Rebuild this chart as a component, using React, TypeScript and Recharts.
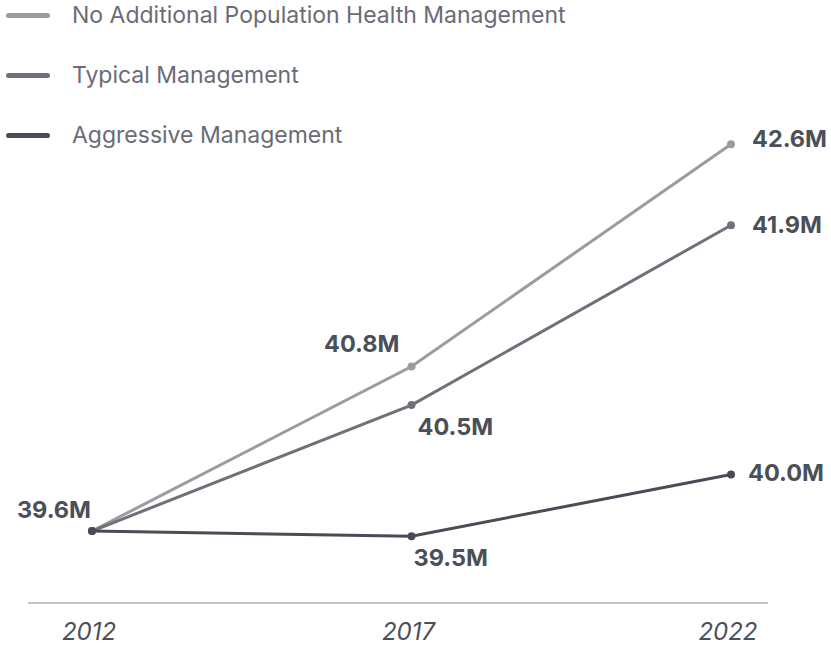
import { LineChart, Line, XAxis, YAxis, LabelList } from 'recharts';

const years = ['2012', '2017', '2022'];
const noManagement = [39.56, 40.84, 42.57];
const typicalManagement = [39.56, 40.54, 41.94];
const aggressiveManagement = [39.56, 39.52, 40.0];

const seriesNames = [
  'No Additional Population Health Management',
  'Typical Management',
  'Aggressive Management',
];
const seriesColors = ['#9b9ba0', '#6f7079', '#474c55'];

const data = years.map((year, i) => ({
  year,
  none: noManagement[i],
  typical: typicalManagement[i],
  aggressive: aggressiveManagement[i],
}));

const TEXT = '#4a4f58';
const FONT = 'Inter, "Open Sans", sans-serif';

// where each point's label sits, relative to its dot (null = no label)
type Place = { dx: number; dy: number; anchor: 'start' | 'end' } | null;
const placements: Record<string, Place[]> = {
  none: [null, { dx: -12, dy: -15, anchor: 'end' }, { dx: 21, dy: 3, anchor: 'start' }],
  typical: [null, { dx: 6, dy: 30, anchor: 'start' }, { dx: 21, dy: 8, anchor: 'start' }],
  aggressive: [
    { dx: -1, dy: -13, anchor: 'end' },
    { dx: 2, dy: 30, anchor: 'start' },
    { dx: 17, dy: 6, anchor: 'start' },
  ],
};

const makeLabel = (key: string) => (props: any) => {
  const { x, y, value, index } = props;
  const p = placements[key][index];
  if (!p) return null;
  return (
    <text
      x={x + p.dx}
      y={y + p.dy}
      textAnchor={p.anchor}
      fill={TEXT}
      fontSize={23.5}
      fontWeight={700}
      fontFamily={FONT}
    >
      {`${Number(value).toFixed(1)}M`}
    </text>
  );
};

const YearTick = ({ x, y, payload }: any) => (
  <text
    x={x - 3}
    y={y + 37}
    textAnchor="middle"
    fill={TEXT}
    fontSize={24}
    fontStyle="italic"
    fontFamily={FONT}
  >
    {payload.value}
  </text>
);

export default function App() {
  const keys = ['none', 'typical', 'aggressive'];
  return (
    <div style={{ position: 'relative', width: 831, height: 646, background: '#fff' }}>
      <style>{'body{margin:0}'}</style>
      <div style={{ position: 'absolute', left: 0, top: 0, zIndex: 1 }}>
        {seriesNames.map((name, i) => (
          <div
            key={name}
            style={{
              position: 'absolute',
              left: 6,
              top: 15 + i * 60 - 15,
              height: 30,
              display: 'flex',
              alignItems: 'center',
              whiteSpace: 'nowrap',
            }}
          >
            <span
              style={{
                display: 'inline-block',
                width: 44,
                height: 5,
                borderRadius: 3,
                background: seriesColors[i],
              }}
            />
            <span
              style={{
                marginLeft: 22,
                fontFamily: FONT,
                fontSize: 23,
                color: '#696c75',
              }}
            >
              {name}
            </span>
          </div>
        ))}
      </div>
      <LineChart
        width={831}
        height={646}
        data={data}
        margin={{ top: 89, right: 63, bottom: 0, left: 28 }}
      >
        <XAxis
          dataKey="year"
          height={43}
          padding={{ left: 64, right: 37 }}
          axisLine={{ stroke: '#c6c6c6', strokeWidth: 2 }}
          tickLine={false}
          tickSize={0}
          tickMargin={0}
          tick={<YearTick />}
          interval={0}
        />
        <YAxis hide domain={[39, 43]} />
        {keys.map((key, i) => (
          <Line
            key={key}
            type="linear"
            dataKey={key}
            stroke={seriesColors[i]}
            strokeWidth={3}
            dot={{ r: 4, fill: seriesColors[i], stroke: 'none' }}
            activeDot={false}
            isAnimationActive={false}
          >
            <LabelList dataKey={key} content={makeLabel(key)} />
          </Line>
        ))}
      </LineChart>
    </div>
  );
}
